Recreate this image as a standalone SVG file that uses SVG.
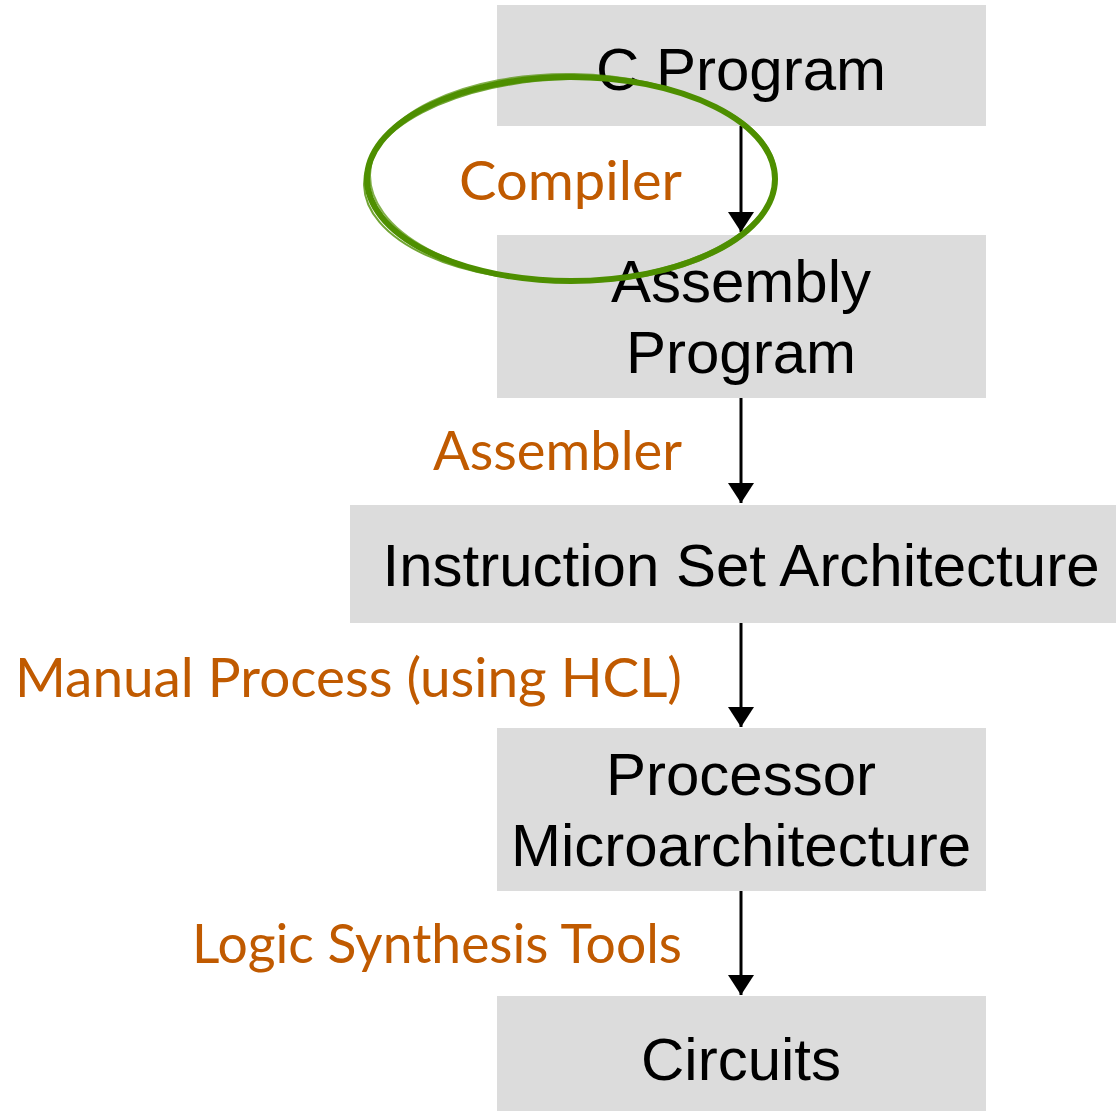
<svg xmlns="http://www.w3.org/2000/svg" width="1116" height="1111" viewBox="0 0 1116 1111">
  <style>
    .box { fill: #DCDCDC; }
    .lbl { font-family: "Liberation Sans", Arial, sans-serif; font-size: 60px; fill: #000; text-anchor: middle; }
    .tool { font-family: Lato, "Open Sans", sans-serif; font-size: 55px; fill: #C05A00; text-anchor: end; }
    .conn { stroke: #000; stroke-width: 3; fill: none; }
    .ring { fill: none; stroke: #4E8F00; }
  </style>
  <defs>
    <!-- triangular arrowhead, tip at the line end -->
    <marker id="head" viewBox="0 0 20 26" refX="20" refY="13" markerWidth="20" markerHeight="26" markerUnits="userSpaceOnUse" orient="auto">
      <path d="M0,0 L20,13 L0,26 Z" fill="#000"/>
    </marker>
  </defs>

  <g id="c-program">
    <rect class="box" x="497" y="5" width="489" height="121"/>
    <text class="lbl" x="741" y="90">C Program</text>
  </g>
  <g id="assembly-program">
    <rect class="box" x="497" y="235" width="489" height="163"/>
    <text class="lbl" x="741" y="302">Assembly</text>
    <text class="lbl" x="741" y="373">Program</text>
  </g>
  <g id="isa">
    <rect class="box" x="350" y="505" width="766" height="118"/>
    <text class="lbl" x="741" y="586">Instruction Set Architecture</text>
  </g>
  <g id="microarchitecture">
    <rect class="box" x="497" y="728" width="489" height="163"/>
    <text class="lbl" x="741" y="795">Processor</text>
    <text class="lbl" x="741" y="866">Microarchitecture</text>
  </g>
  <g id="circuits">
    <rect class="box" x="497" y="996" width="489" height="115"/>
    <text class="lbl" x="741" y="1080">Circuits</text>
  </g>

  <g id="connectors">
    <line class="conn" x1="741" y1="126" x2="741" y2="232" marker-end="url(#head)"/>
    <line class="conn" x1="741" y1="398" x2="741" y2="503" marker-end="url(#head)"/>
    <line class="conn" x1="741" y1="623" x2="741" y2="727" marker-end="url(#head)"/>
    <line class="conn" x1="741" y1="891" x2="741" y2="995" marker-end="url(#head)"/>
  </g>

  <g id="tool-labels">
    <text class="tool" x="682" y="200" textLength="223" lengthAdjust="spacingAndGlyphs">Compiler</text>
    <text class="tool" x="682" y="470" textLength="249" lengthAdjust="spacingAndGlyphs">Assembler</text>
    <text class="tool" x="682" y="697" textLength="667" lengthAdjust="spacingAndGlyphs">Manual Process (using HCL)</text>
    <text class="tool" x="682" y="963" textLength="490" lengthAdjust="spacingAndGlyphs">Logic Synthesis Tools</text>
  </g>

  <!-- hand-drawn highlight ring around the compiler step -->
  <g id="highlight">
    <ellipse class="ring" cx="571" cy="179" rx="204" ry="102" stroke-width="6"/>
    <ellipse class="ring" cx="570" cy="180" rx="206" ry="101" stroke-width="2" opacity="0.8" transform="rotate(-1.5 570 180)"/>
    <ellipse class="ring" cx="572" cy="178" rx="202" ry="104" stroke-width="2" opacity="0.7" transform="rotate(1 572 178)"/>
  </g>
</svg>
